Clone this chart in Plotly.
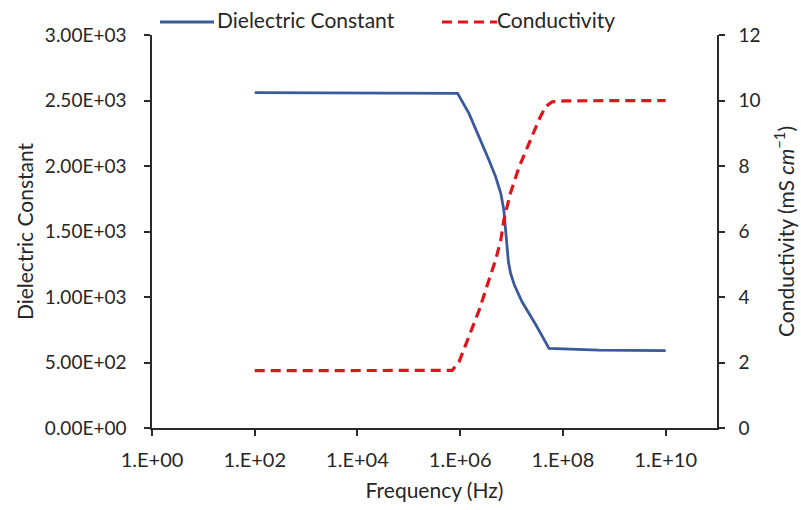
import plotly.graph_objects as go

# Dielectric constant data
freq_de = [1e2, 1e4, 8.9e5, 1.48e6, 2.34e6, 3.63e6, 4.9e6, 6.17e6, 7.08e6, 7.6e6, 8.1e6,
           8.7e6, 9.6e6, 1.15e7, 1.62e7, 2.95e7, 5.37e7, 5e8, 1e10]
dielectric = [2560, 2558, 2555, 2402, 2224, 2046, 1918, 1792, 1664, 1520, 1370,
              1265, 1180, 1085, 960, 790, 608, 595, 590]

# Conductivity data (mS/cm)
freq_cond = [1e2, 1e4, 7e5, 9.5e5, 1.48e6, 2.34e6, 3.63e6, 4.9e6, 6.17e6, 7.08e6, 9.5e6,
             1.41e7, 2.19e7, 3.39e7, 4.57e7, 6.17e7, 1.12e8, 1e10]
conductivity = [1.75, 1.75, 1.76, 2.02, 2.79, 3.60, 4.52, 5.13, 5.74, 6.35, 7.17,
                7.98, 8.69, 9.40, 9.81, 9.96, 9.99, 10.0]

x_tickvals = [1e0, 1e2, 1e4, 1e6, 1e8, 1e10]
x_ticktext = ["1.E+00", "1.E+02", "1.E+04", "1.E+06", "1.E+08", "1.E+10"]
y1_tickvals = [0, 500, 1000, 1500, 2000, 2500, 3000]
y1_ticktext = ["0.00E+00", "5.00E+02", "1.00E+03", "1.50E+03", "2.00E+03", "2.50E+03", "3.00E+03"]
y2_tickvals = [0, 2, 4, 6, 8, 10, 12]

FONT = "Lato, 'Open Sans', sans-serif"
BLUE = "#3A5A9C"
RED = "#E0141C"
AX = "#2a2a2a"
TXT = "#262626"

fig = go.Figure()
fig.add_trace(go.Scatter(x=freq_de, y=dielectric, mode="lines", name="Dielectric Constant",
                         line=dict(color=BLUE, width=2.8), showlegend=False))
fig.add_trace(go.Scatter(x=freq_cond, y=conductivity, mode="lines", name="Conductivity",
                         line=dict(color=RED, width=3.2, dash="10px,6px"),
                         yaxis="y2", showlegend=False))

fig.update_layout(
    width=801, height=510,
    margin=dict(l=152, r=84, t=35, b=82),
    plot_bgcolor="white", paper_bgcolor="white",
    font=dict(family=FONT, size=19, color=TXT),
    xaxis=dict(type="log", range=[0, 11], tickvals=x_tickvals, ticktext=x_ticktext,
               automargin=False,
               showgrid=False, zeroline=False, showline=True, linecolor=AX, linewidth=1.5,
               ticks="outside", ticklen=6, tickcolor=AX, tickwidth=1.5,
               ticklabelstandoff=7, tickfont=dict(size=20),
               title=dict(text="Frequency (Hz)", font=dict(size=21), standoff=14)),
    yaxis=dict(range=[0, 3000], tickvals=y1_tickvals, ticktext=y1_ticktext,
               automargin=False,
               showgrid=False, zeroline=False, showline=True, linecolor=AX, linewidth=1.5,
               ticks="outside", ticklen=6, tickcolor=AX, tickwidth=1.5,
               ticklabelstandoff=14, tickfont=dict(size=19),
               title=dict(text="Dielectric Constant", font=dict(size=21), standoff=6)),
    yaxis2=dict(range=[0, 12], tickvals=y2_tickvals, overlaying="y", side="right",
                automargin=False,
                showgrid=False, zeroline=False, showline=True, linecolor=AX, linewidth=1.5,
                ticks="outside", ticklen=6, tickcolor=AX, tickwidth=1.5,
                ticklabelstandoff=10, tickfont=dict(size=19),
                title=dict(text="Conductivity (mS <i>cm</i><sup>\u22121</sup>)", font=dict(size=21), standoff=20)),
)

# Manual legend (line samples + labels)
ly = 1 + (35 - 22) / 393
ty = 1 + (35 - 19) / 393
fig.add_shape(type="line", xref="paper", yref="paper", x0=(160 - 152) / 565, x1=(214 - 152) / 565,
              y0=ly, y1=ly, line=dict(color=BLUE, width=3))
fig.add_annotation(xref="paper", yref="paper", x=(215 - 152) / 565, y=ty,
                   text="Dielectric Constant", showarrow=False, xanchor="left", yanchor="middle",
                   font=dict(size=21))
fig.add_shape(type="line", xref="paper", yref="paper", x0=(442 - 152) / 565, x1=(497 - 152) / 565,
              y0=ly, y1=ly, line=dict(color=RED, width=3, dash="10px,6px"))
fig.add_annotation(xref="paper", yref="paper", x=(495 - 152) / 565, y=ty,
                   text="Conductivity", showarrow=False, xanchor="left", yanchor="middle",
                   font=dict(size=21))

fig.write_html("out.html")
